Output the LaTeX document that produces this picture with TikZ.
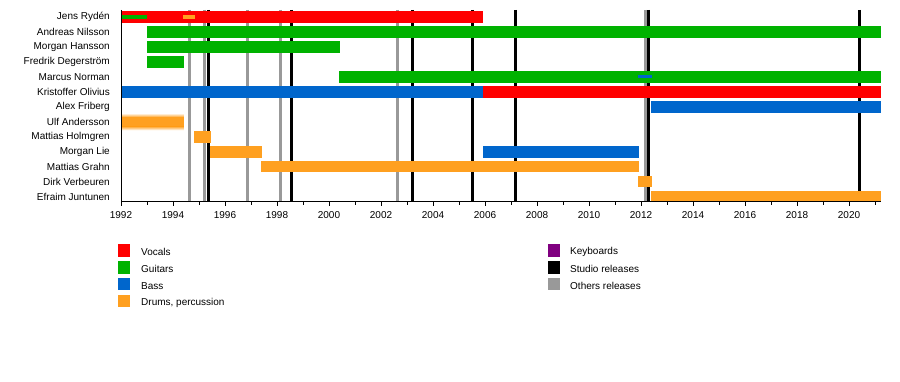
\documentclass[tikz,border=0pt]{standalone}
\usepackage{fontspec}
\setmainfont{Liberation Sans}
\definecolor{cVoc}{HTML}{FF0000}
\definecolor{cGui}{HTML}{00B200}
\definecolor{cBas}{HTML}{0066CC}
\definecolor{cDru}{HTML}{FFA020}
\definecolor{cKey}{HTML}{800080}
\definecolor{cStu}{HTML}{000000}
\definecolor{cOth}{HTML}{999999}
\newcommand\tlbar[4]{\fill[#1] ({#2},{17+14.96*#4-5.9}) rectangle ({#3},{17+14.96*#4+5.9});}
\newcommand\tlthin[4]{\fill[#1] ({#2},{17+14.96*#4-1.6}) rectangle ({#3},{17+14.96*#4+1.6});}
\begin{document}
\begin{tikzpicture}[x=1pt,y=-1pt,
  txt/.style={font=\fontsize{10}{12}\selectfont, inner sep=0pt},
  rowname/.style={txt, anchor=east},
  studio/.style={draw=cStu, line width=3pt},
  other/.style={draw=cOth, line width=3pt},
  legsq/.style={minimum width=12pt, minimum height=12.5pt, inner sep=0pt, anchor=west},
  legtxt/.style={txt, anchor=west}]
\useasboundingbox[fill=white] (0,0) rectangle (900,382);
% names
\foreach \nm [count=\i from 0] in {Jens Rydén,Andreas Nilsson,Morgan Hansson,Fredrik Degerström,Marcus Norman,Kristoffer Olivius,Alex Friberg,Ulf Andersson,Mattias Holmgren,Morgan Lie,Mattias Grahn,Dirk Verbeuren,Efraim Juntunen}
  \node[rowname] (row\i) at (110,{17+14.96*\i}) {\nm};
\begin{scope}[xshift=121pt, x=26pt]
  % release lines
  \foreach \t in {2.65,3.23,4.85,6.15,10.62,20.19}
    \draw[other] (\t,10) -- (\t,202);
  \foreach \t in {3.35,6.54,11.23,13.5,15.19,20.27,28.42}
    \draw[studio] (\t,10) -- (\t,202);
  % bars
  \tlbar{cVoc}{0}{13.94}{0}
  \tlthin{cGui}{0}{1.0}{0}
  \tlthin{cDru}{2.38}{2.85}{0}
  \tlbar{cGui}{1.0}{29.23}{1}
  \tlbar{cGui}{1.0}{8.42}{2}
  \tlbar{cGui}{1.0}{2.42}{3}
  \tlbar{cGui}{8.38}{29.23}{4}
  \tlthin{cBas}{19.88}{20.42}{4}
  \tlbar{cBas}{0}{13.92}{5}
  \tlbar{cVoc}{13.92}{29.23}{5}
  \tlbar{cBas}{20.38}{29.23}{6}
  % Ulf (soft edges)
  \shade[top color=white, bottom color=cDru] (0,{17+14.96*7-8.5}) rectangle (2.42,{17+14.96*7-4.5});
  \fill[cDru] (0,{17+14.96*7-4.6}) rectangle (2.42,{17+14.96*7+4.6});
  \shade[top color=cDru, bottom color=white] (0,{17+14.96*7+4.5}) rectangle (2.42,{17+14.96*7+8.5});
  \tlbar{cDru}{2.8}{3.46}{8}
  \tlbar{cDru}{3.42}{5.42}{9}
  \tlbar{cBas}{13.92}{19.92}{9}
  \tlbar{cDru}{5.38}{19.92}{10}
  \tlbar{cDru}{19.88}{20.42}{11}
  \tlbar{cDru}{20.38}{29.23}{12}
  % axes
  \draw[black, line width=1pt] (0,10) -- (0,202.5);
  \draw[black, line width=1pt] (0,202) -- (29.23,202);
  \foreach \k in {0,2,...,28} {
    \draw[black, line width=0.8pt] (\k,202) -- (\k,206);
    \pgfmathtruncatemacro\yr{1992+\k}
    \node[txt] (yr\k) at (\k,215.5) {\yr};
  }
  \foreach \k in {1,3,...,29}
    \draw[black, line width=0.8pt] (\k,202) -- (\k,205);
\end{scope}
% legend
\node[legsq, fill=cVoc] (lv) at (118,250.5) {};
\node[legtxt] (tv) at (141,252) {Vocals};
\node[legsq, fill=cGui] (lg) at (118,267.3) {};
\node[legtxt] (tg) at (141,269) {Guitars};
\node[legsq, fill=cBas] (lb) at (118,284.1) {};
\node[legtxt] (tb) at (141,286) {Bass};
\node[legsq, fill=cDru] (ld) at (118,300.9) {};
\node[legtxt] (td) at (141,303) {Drums, percussion};
\node[legsq, fill=cKey] (lk) at (548,250.5) {};
\node[legtxt] (tk) at (570,252) {Keyboards};
\node[legsq, fill=cStu] (ls) at (548,267.3) {};
\node[legtxt] (ts) at (570,269) {Studio releases};
\node[legsq, fill=cOth] (lo) at (548,284.1) {};
\node[legtxt] (to) at (570,286) {Others releases};
\end{tikzpicture}
\end{document}
